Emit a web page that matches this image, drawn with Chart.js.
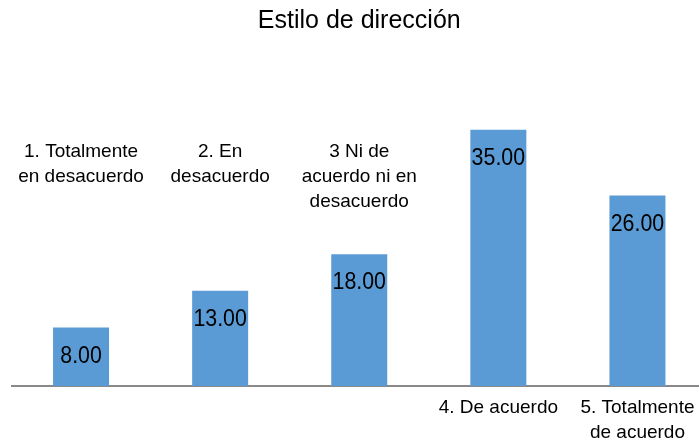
<!DOCTYPE html>
<html>
<head>
<meta charset="utf-8">
<script src="https://cdn.jsdelivr.net/npm/chart.js@4/dist/chart.umd.min.js"></script>
<style>
  html, body { margin: 0; padding: 0; background: #fff; overflow: hidden; }
  #wrap { width: 707px; height: 444px; }
</style>
</head>
<body>
<div id="wrap"><canvas id="c"></canvas></div>
<script>
// Category labels, one entry per line of text
const categories = [
  ['1. Totalmente', 'en desacuerdo'],
  ['2. En', 'desacuerdo'],
  ['3 Ni de', 'acuerdo ni en', 'desacuerdo'],
  ['4. De acuerdo'],
  ['5. Totalmente', 'de acuerdo']
];
const values = [8, 13, 18, 35, 26];
const chartTitle = 'Estilo de dirección';

const FONT = '"Liberation Sans", Arial, sans-serif';

// Writes each bar's value inside the bar, near its top (slightly condensed type)
const valueLabels = {
  id: 'valueLabels',
  afterDatasetsDraw(chart) {
    const ctx = chart.ctx;
    const meta = chart.getDatasetMeta(0);
    const sx = 0.89;
    meta.data.forEach((bar, i) => {
      ctx.save();
      ctx.translate(bar.x, bar.y + 28.5);
      ctx.scale(sx, 1);
      ctx.font = '24px ' + FONT;
      ctx.fillStyle = '#000';
      ctx.textAlign = 'center';
      ctx.textBaseline = 'middle';
      ctx.fillText(values[i].toFixed(2), 0, 0);
      ctx.restore();
    });
  }
};

// Category names: the first three sit in the empty space above their bars,
// the rest go under the axis
const categoryLabels = {
  id: 'categoryLabels',
  afterDraw(chart) {
    const ctx = chart.ctx;
    const area = chart.chartArea;
    const x = chart.scales.x;
    ctx.save();
    ctx.font = '19px ' + FONT;
    ctx.fillStyle = '#000';
    ctx.textAlign = 'center';
    ctx.textBaseline = 'middle';
    categories.forEach((lines, i) => {
      const cx = x.getPixelForValue(i);
      const above = i < 3;
      const y0 = above ? area.top + 59 : area.bottom + 22;
      const lh = above ? 25 : 24.5;
      lines.forEach((t, k) => ctx.fillText(t, cx, y0 + k * lh));
    });
    ctx.restore();
  }
};

new Chart(document.getElementById('c'), {
  type: 'bar',
  data: {
    labels: categories,
    datasets: [{
      data: values,
      backgroundColor: '#5B9BD5',
      borderWidth: 0,
      barPercentage: 0.4026,
      categoryPercentage: 1
    }]
  },
  options: {
    responsive: true,
    maintainAspectRatio: false,
    animation: false,
    devicePixelRatio: 1,
    layout: { padding: { left: 11.5, right: 0, top: 0, bottom: 58 } },
    plugins: {
      legend: { display: false },
      tooltip: { enabled: false },
      title: {
        display: true,
        text: chartTitle,
        color: '#000',
        font: { family: FONT, size: 25, weight: 'normal' },
        padding: { top: 6, bottom: 57 }
      }
    },
    scales: {
      x: {
        grid: { display: false, drawTicks: false },
        border: { display: true, color: '#898989', width: 2 },
        ticks: { display: false }
      },
      y: {
        display: false,
        min: 0,
        max: 40
      }
    }
  },
  plugins: [valueLabels, categoryLabels]
});
</script>
</body>
</html>
